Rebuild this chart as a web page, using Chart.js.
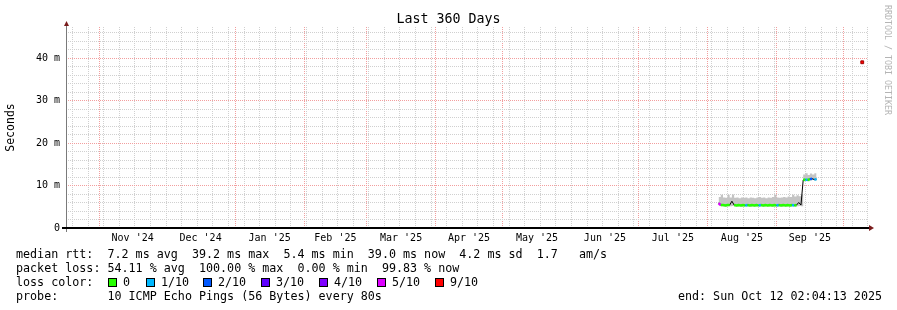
<!DOCTYPE html>
<html>
<head>
<meta charset="utf-8">
<title>Last 360 Days</title>
<script src="https://cdn.jsdelivr.net/npm/chart.js@4.4.1/dist/chart.umd.min.js"></script>
<style>
  html, body { margin: 0; padding: 0; background: #fff; }
  #wrap { position: relative; width: 897px; height: 310px; overflow: hidden; font-family: "DejaVu Sans Mono", monospace; color: #000; }
  #c { position: absolute; left: 0; top: 0; }
  .txt { position: absolute; white-space: pre; font-size: 11.7px; line-height: 14px; }
  .title { position: absolute; left: 0; top: 11px; width: 897px; text-align: center; font-size: 13.3px; line-height: 16px; }
  .brand { position: absolute; left: 883px; top: 5px; writing-mode: vertical-rl; font-size: 8.3px; line-height: 10px; color: #b4b4b4; white-space: pre; }
  .sq { position: absolute; width: 7px; height: 7px; border: 1px solid #000; top: 278px; }
</style>
</head>
<body>
<div id="wrap">
  <canvas id="c" width="897" height="310"></canvas>
  <div class="title">Last 360 Days</div>
  <div class="brand">RRDTOOL / TOBI OETIKER</div>
  <div class="txt" style="left:16px;top:247px">median rtt:  7.2 ms avg  39.2 ms max  5.4 ms min  39.0 ms now  4.2 ms sd  1.7   am/s</div>
  <div class="txt" style="left:16px;top:261px">packet loss: 54.11 % avg  100.00 % max  0.00 % min  99.83 % now</div>
  <div class="txt" style="left:16px;top:275px" id="lossrow">loss color:</div>
  <div class="txt" style="left:16px;top:289px">probe:       10 ICMP Echo Pings (56 Bytes) every 80s</div>
  <div class="txt" style="right:15px;top:289px">end: Sun Oct 12 02:04:13 2025</div>
</div>
<script>
// graph window: 360 days ending at the probe time
var startTime = Date.UTC(2024, 9, 17, 2, 4, 13);
var DAY = 86400000;

// samples (UTC dates) with median rtt, smoke band and loss bucket
var sampleDates = [
  "2025-08-06", "2025-08-07", "2025-08-08", "2025-08-09", "2025-08-10", "2025-08-11", "2025-08-12", "2025-08-13",
  "2025-08-14", "2025-08-15", "2025-08-16", "2025-08-17", "2025-08-18", "2025-08-19", "2025-08-20", "2025-08-21",
  "2025-08-22", "2025-08-23", "2025-08-24", "2025-08-25", "2025-08-26", "2025-08-27", "2025-08-28", "2025-08-29",
  "2025-08-30", "2025-08-31", "2025-09-01", "2025-09-02", "2025-09-03", "2025-09-04", "2025-09-05", "2025-09-06",
  "2025-09-07", "2025-09-08", "2025-09-09", "2025-09-10", "2025-09-11", "2025-09-12", "2025-09-13", "2025-09-14",
  "2025-09-15", "2025-09-16", "2025-09-17", "2025-09-18", "2025-09-19"
];
var medianMs = [
  5.8, 5.4, 5.4, 5.3, 5.4, 5.4, 6.3, 5.4,
  5.3, 5.4, 5.3, 5.4, 5.3, 5.4, 5.3, 5.4,
  5.3, 5.4, 5.3, 5.4, 5.3, 5.4, 5.3, 5.4,
  5.3, 5.4, 5.3, 5.4, 5.3, 5.4, 5.3, 5.4,
  5.3, 5.4, 5.3, 5.4, 6.0, 5.4, 11.3, 11.4,
  11.3, 11.5, 11.6, 11.4, 11.5
];
var smokeLowMs = [
  5.3, 5.1, 5.1, 5.0, 5.1, 5.1, 5.2, 5.1,
  5.0, 5.1, 5.0, 5.1, 5.0, 5.1, 5.0, 5.1,
  5.0, 5.1, 5.0, 5.1, 5.0, 5.1, 5.0, 5.1,
  5.0, 5.1, 5.0, 5.1, 5.0, 5.1, 5.0, 5.1,
  5.0, 5.1, 5.0, 5.1, 5.2, 5.1, 11.0, 11.1,
  11.0, 11.2, 11.3, 11.1, 11.2
];
var smokeHighMs = [
  7.3, 7.8, 7.2, 7.1, 7.8, 7.2, 7.9, 7.1,
  7.2, 7.0, 7.2, 7.1, 7.2, 7.0, 7.2, 7.1,
  7.0, 7.2, 7.3, 7.1, 7.2, 7.0, 7.2, 7.1,
  7.3, 7.8, 7.2, 7.1, 7.2, 7.3, 7.2, 7.4,
  7.3, 7.8, 7.4, 7.7, 7.5, 7.9, 12.6, 12.9,
  12.5, 12.8, 12.6, 12.9, 12.5
];
// loss bucket per sample (tenths of pings lost), null = uncoloured
var lossTenths = [
  5, 0, 0, 0, 0, null, null, 0,
  0, 0, 0, 0, 1, 0, 0, 0,
  0, 0, 1, 0, 0, 0, 0, 0,
  0, 0, 1, 0, 0, 0, 0, 0,
  0, 1, 0, null, null, null, 0, 1,
  0, 2, null, 1, 0
];
var nowDate = "2025-10-09T12:00:00";
var nowMs = 39.0;
var nowLoss = 9;

var lossBuckets = [0, 1, 2, 3, 4, 5, 9];
var lossLabels = ["0", "1/10", "2/10", "3/10", "4/10", "5/10", "9/10"];
var lossColors = { 0: "#26ff00", 1: "#00b8ff", 2: "#0059ff", 3: "#5e00ff", 4: "#7e00ff", 5: "#dd00ff", 9: "#ff0000" };

// axis ticks
var monthStarts = ["2024-11-01", "2024-12-01", "2025-01-01", "2025-02-01", "2025-03-01", "2025-04-01",
  "2025-05-01", "2025-06-01", "2025-07-01", "2025-08-01", "2025-09-01", "2025-10-01"];
var monthLabels = ["Nov '24", "Dec '24", "Jan '25", "Feb '25", "Mar '25", "Apr '25",
  "May '25", "Jun '25", "Jul '25", "Aug '25", "Sep '25"];
var firstWeekLine = "2024-10-20";
var yMajor = [0, 10, 20, 30, 40];
var yLabels = ["0", "10 m", "20 m", "30 m", "40 m"];

function dayOf(s) {
  var iso = s.indexOf("T") < 0 ? s + "T00:00:00Z" : s + "Z";
  return (Date.parse(iso) - startTime) / DAY;
}
function pts(values) {
  return values.map(function (v, i) { return { x: dayOf(sampleDates[i]), y: v }; });
}

// x grid: month boundaries (major), weeks (minor), month labels mid-month
var xTicks = [];
monthStarts.forEach(function (d) { xTicks.push({ value: dayOf(d), kind: "major", label: "" }); });
monthLabels.forEach(function (l, i) {
  xTicks.push({ value: (dayOf(monthStarts[i]) + dayOf(monthStarts[i + 1])) / 2, kind: "label", label: l });
});
for (var w = dayOf(firstWeekLine); w < 360; w += 7) xTicks.push({ value: w, kind: "minor", label: "" });
xTicks.sort(function (a, b) { return a.value - b.value; });

var yTicks = [];
for (var v = 0; v <= 46; v += 2) yTicks.push(v);

var MINOR = "rgb(208,208,208)";
var MAJOR = "rgb(242,158,158)";

// legend squares
var sqX = [108, 146, 203, 261, 319, 377, 435];
lossBuckets.forEach(function (b, i) {
  var sq = document.createElement("div");
  sq.className = "sq";
  sq.style.left = sqX[i] + "px";
  sq.style.background = lossColors[b];
  document.getElementById("wrap").appendChild(sq);
  var t = document.createElement("div");
  t.className = "txt";
  t.style.left = (sqX[i] + 15) + "px";
  t.style.top = "275px";
  t.textContent = lossLabels[i];
  document.getElementById("wrap").appendChild(t);
});

// axes with arrows, drawn like rrdtool
var rrdAxes = {
  id: "rrdAxes",
  afterDatasetsDraw: function (chart) {
    var c = chart.ctx, a = chart.chartArea;
    c.save();
    c.lineWidth = 1;
    c.strokeStyle = "#7a7a7a";
    c.beginPath();
    c.moveTo(a.left + 0.5, a.bottom + 4);
    c.lineTo(a.left + 0.5, a.top - 2);
    c.stroke();
    c.lineWidth = 2;
    c.strokeStyle = "#000";
    c.beginPath();
    c.moveTo(a.left - 4, a.bottom);
    c.lineTo(a.right + 1, a.bottom);
    c.stroke();
    c.fillStyle = "#7a1c1c";
    c.beginPath();
    c.moveTo(a.left + 0.5, a.top - 6);
    c.lineTo(a.left + 3, a.top - 1);
    c.lineTo(a.left - 2, a.top - 1);
    c.closePath();
    c.fill();
    c.beginPath();
    c.moveTo(a.right + 6, a.bottom);
    c.lineTo(a.right + 1, a.bottom - 3);
    c.lineTo(a.right + 1, a.bottom + 3);
    c.closePath();
    c.fill();
    c.restore();
  }
};

var ctx = document.getElementById("c").getContext("2d");
var myChart = new Chart(ctx, {
  type: "line",
  data: {
    datasets: [
      {
        label: "smoke low",
        data: pts(smokeLowMs),
        borderWidth: 0,
        pointRadius: 0,
        stepped: true,
        fill: false,
        order: 5
      },
      {
        label: "smoke",
        data: pts(smokeHighMs),
        borderWidth: 0,
        borderColor: "rgba(0,0,0,0)",
        backgroundColor: "rgb(196,196,196)",
        pointRadius: 0,
        stepped: true,
        fill: 0,
        order: 4
      },
      {
        label: "median",
        data: pts(medianMs),
        borderColor: "#000",
        borderWidth: 1,
        pointRadius: 0,
        order: 3
      },
      {
        label: "median loss",
        data: pts(medianMs),
        borderColor: lossColors[0],
        borderWidth: 2.5,
        pointRadius: 0,
        segment: {
          borderColor: function (s) {
            var l = lossTenths[s.p0DataIndex];
            return l === null ? "rgba(0,0,0,0)" : lossColors[l];
          }
        },
        order: 2
      },
      {
        label: "now",
        data: [{ x: dayOf(nowDate), y: nowMs }],
        showLine: false,
        pointStyle: "rect",
        pointRadius: 2,
        backgroundColor: lossColors[nowLoss],
        borderColor: "#a00000",
        borderWidth: 1,
        order: 1
      }
    ]
  },
  options: {
    responsive: false,
    devicePixelRatio: 1,
    animation: false,
    layout: { padding: { left: 0, right: 29, top: 27, bottom: 0 } },
    plugins: { legend: { display: false }, tooltip: { enabled: false }, title: { display: false } },
    scales: {
      x: {
        type: "linear",
        min: 0,
        max: 360,
        afterBuildTicks: function (scale) {
          scale.ticks = xTicks.map(function (t) { return { value: t.value }; });
        },
        afterFit: function (scale) { scale.height = 82; },
        grid: {
          drawTicks: false,
          lineWidth: 1,
          color: function (c) {
            var t = xTicks[c.index];
            if (!t) return "rgba(0,0,0,0)";
            return t.kind === "major" ? MAJOR : t.kind === "minor" ? MINOR : "rgba(0,0,0,0)";
          }
        },
        border: { display: false, dash: [1, 1] },
        ticks: {
          autoSkip: false,
          maxRotation: 0,
          minRotation: 0,
          padding: 4,
          color: "#000",
          font: { family: "DejaVu Sans Mono", size: 10 },
          callback: function (value, index) { return xTicks[index] ? xTicks[index].label : ""; }
        }
      },
      y: {
        type: "linear",
        min: 0,
        max: 47.3,
        afterBuildTicks: function (scale) {
          scale.ticks = yTicks.map(function (v) { return { value: v }; });
        },
        afterFit: function (scale) { scale.width = 66; },
        grid: {
          drawTicks: false,
          lineWidth: 1,
          color: function (c) {
            var val = c.tick ? c.tick.value : 0;
            if (val === 0) return "rgba(0,0,0,0)";
            return val % 10 === 0 ? MAJOR : MINOR;
          }
        },
        border: { display: false, dash: [1, 1] },
        ticks: {
          autoSkip: false,
          padding: 6,
          color: "#000",
          font: { family: "DejaVu Sans Mono", size: 10 },
          callback: function (value) {
            var k = yMajor.indexOf(value);
            return k < 0 ? "" : yLabels[k];
          }
        },
        title: {
          display: true,
          text: "Seconds",
          color: "#000",
          font: { family: "DejaVu Sans Mono", size: 11.5 },
          padding: { top: 4, bottom: 0 }
        }
      }
    }
  },
  plugins: [rrdAxes]
});
</script>
</body>
</html>
